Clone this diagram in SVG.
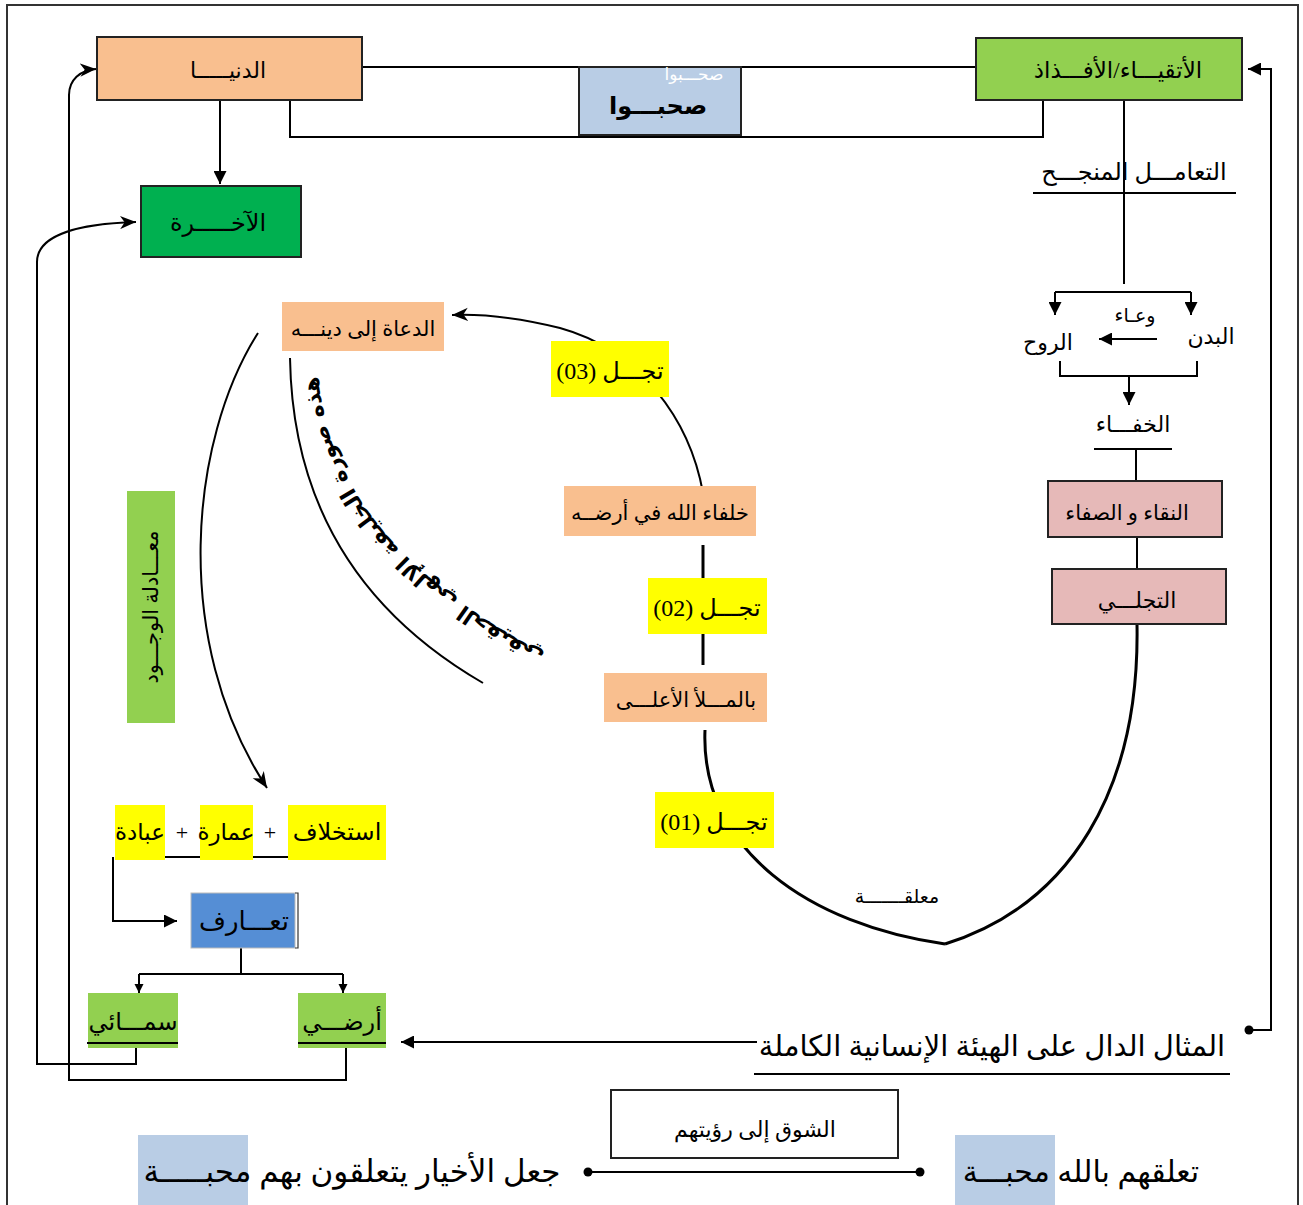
<svg xmlns="http://www.w3.org/2000/svg" width="1303" height="1205" viewBox="0 0 1303 1205">
  <style>
    .ar { font-family: 'Liberation Serif', 'DejaVu Sans', serif; fill: #000; direction: rtl; text-anchor: middle; }
    .box { stroke: #222; stroke-width: 2; }
    .ln { fill: none; stroke: #000; stroke-width: 2; }
    .thick { fill: none; stroke: #000; stroke-width: 3; }
    .peach { fill: #F9BF8F; }
    .lgreen { fill: #92D050; }
    .dgreen { fill: #00B050; }
    .steel { fill: #B9CDE5; }
    .rose { fill: #E6B9B8; }
    .yel { fill: #FFFF00; }
    .blue { fill: #558ED5; }
  </style>
  <defs>
    <marker id="tri" viewBox="0 0 10 10" refX="10" refY="5" markerUnits="userSpaceOnUse" markerWidth="14" markerHeight="13" orient="auto">
      <path d="M0,0 L10,5 L0,10 z" fill="#000"/>
    </marker>
    <marker id="tri-s" viewBox="0 0 10 10" refX="10" refY="5" markerUnits="userSpaceOnUse" markerWidth="9" markerHeight="12" orient="auto">
      <path d="M0,0 L10,5 L0,10 z" fill="#000"/>
    </marker>
    <marker id="stealth" viewBox="0 0 12 10" refX="12" refY="5" markerUnits="userSpaceOnUse" markerWidth="16" markerHeight="14" orient="auto">
      <path d="M0,0 L12,5 L0,10 L3.5,5 z" fill="#000"/>
    </marker>
  </defs>

  <rect width="1303" height="1205" fill="#fff"/>
  <!-- frame -->
  <rect x="7" y="5" width="1291" height="1215" fill="none" stroke="#333" stroke-width="2"/>

  <!-- connectors -->
  <g id="connectors">
    <path class="ln" d="M362,67 H976" stroke-width="1.5"/>
    <path class="ln" d="M290,100 V137 H1043 V100"/>
    <path class="ln" d="M220,100 V184" marker-end="url(#tri)"/>
    <path class="ln" d="M1124,100 V284"/>
    <path class="ln" d="M1033,193 H1236"/>
    <path class="ln" d="M1055,292 H1191"/>
    <path class="ln" d="M1055,292 V315" marker-end="url(#tri)"/>
    <path class="ln" d="M1191,292 V315" marker-end="url(#tri)"/>
    <path class="ln" d="M1157,339 H1099" marker-end="url(#tri)"/>
    <path class="ln" d="M1060,361 V376 H1197 V361"/>
    <path class="ln" d="M1129,376 V405" marker-end="url(#tri)"/>
    <path class="ln" d="M1094,449 H1172"/>
    <path class="ln" d="M1136,449 V481"/>
    <path class="ln" d="M1137,537 V569"/>
    <path class="thick" d="M1137,624 C1140,790 1070,905 945,944"/>
    <path class="thick" d="M945,944 C810,925 700,850 705,730"/>
    <path class="thick" d="M703,545 V665"/>
    <path class="ln" stroke-width="2.6" d="M703,493 C690,420 640,350 560,328 C520,318 480,314 452,315" marker-end="url(#stealth)"/>
    <path class="ln" stroke-width="2.6" d="M258,333 C190,440 170,640 267,788" marker-end="url(#stealth)"/>
    <path class="ln" stroke-width="1.3" d="M290,358 C292,480 340,600 483,683"/>
    <path class="ln" d="M115,857 H386"/>
    <path class="ln" d="M113,857 V921 H177" marker-end="url(#tri)"/>
    <path class="ln" d="M241,948 V974 M139,974 H343"/>
    <path class="ln" d="M139,974 V993" marker-end="url(#tri-s)"/>
    <path class="ln" d="M343,974 V993" marker-end="url(#tri-s)"/>
    <path class="ln" d="M136,1048 V1064 H37 V262 C37,238 70,224 136,222" marker-end="url(#stealth)"/>
    <path class="ln" d="M346,1048 V1080 H69 V95 C69,80 80,70 96,69" marker-end="url(#stealth)"/>
    <path class="ln" d="M1249,1030 H1271 V69 H1248" marker-end="url(#tri)"/>
    <circle cx="1249" cy="1030" r="4.5" fill="#000"/>
    <path class="ln" d="M754,1074 H1230"/>
    <path class="ln" d="M757,1042 H401" marker-end="url(#tri)"/>
    <path class="ln" d="M588,1172 H920"/>
    <circle cx="588" cy="1172" r="4.5" fill="#000"/>
    <circle cx="920" cy="1172" r="4.5" fill="#000"/>
  </g>

  <!-- top row -->
  <g id="dunya">
    <rect class="box peach" x="97" y="37" width="265" height="63"/>
    <text class="ar" x="228" y="78" font-size="22">الدنيـــــا</text>
  </g>
  <g id="akhira">
    <rect class="box dgreen" x="141" y="186" width="160" height="71"/>
    <text class="ar" x="218" y="231" font-size="24">الآخـــــرة</text>
  </g>
  <g id="sahibou">
    <rect class="box steel" x="579" y="67" width="162" height="68"/>
    <text class="ar" x="694" y="80" font-size="17" style="fill:#fff">صحـــبوا</text>
    <text class="ar" x="658" y="114" font-size="24" font-weight="bold">صحبـــوا</text>
  </g>
  <g id="atqiya">
    <rect class="box lgreen" x="976" y="38" width="266" height="62"/>
    <text class="ar" x="1118" y="78" font-size="23">الأتقيـــاء/الأفـــذاذ</text>
  </g>

  <!-- right column -->
  <g id="taamul">
    <text class="ar" x="1134" y="180" font-size="24">التعامـــل المنجـــح</text>
  </g>
  <g id="wiaa">
    <text class="ar" x="1135" y="322" font-size="19">وعـاء</text>
    <text class="ar" x="1211" y="344" font-size="22">البدن</text>
    <text class="ar" x="1048" y="350" font-size="22">الروح</text>
  </g>
  <g id="khafaa">
    <text class="ar" x="1133" y="432" font-size="22">الخفـــاء</text>
  </g>
  <g id="naqaa">
    <rect class="box rose" x="1048" y="481" width="174" height="56"/>
    <text class="ar" x="1127" y="520" font-size="21">النقاء و الصفاء</text>
  </g>
  <g id="tajalli">
    <rect class="box rose" x="1052" y="569" width="174" height="55"/>
    <text class="ar" x="1137" y="608" font-size="22">التجلـــي</text>
  </g>

  <!-- central chain -->
  <g id="duat">
    <rect class="peach" x="282" y="302" width="162" height="49"/>
    <text class="ar" x="363" y="336" font-size="21">الدعاة إلى دينـــه</text>
  </g>
  <g id="tajal3">
    <rect class="yel" x="551" y="341" width="118" height="56"/>
    <text class="ar" x="610" y="379" font-size="24">تجـــل (03)</text>
  </g>
  <g id="khulafa">
    <rect class="peach" x="564" y="486" width="192" height="50"/>
    <text class="ar" x="660" y="520" font-size="21">خلفاء الله في أرضــه</text>
  </g>
  <g id="tajal2">
    <rect class="yel" x="648" y="578" width="119" height="56"/>
    <text class="ar" x="707" y="616" font-size="24">تجـــل (02)</text>
  </g>
  <g id="mala">
    <rect class="peach" x="604" y="673" width="163" height="49"/>
    <text class="ar" x="686" y="707" font-size="21">بالمـــلأ الأعلـــى</text>
  </g>
  <g id="tajal1">
    <rect class="yel" x="655" y="792" width="119" height="56"/>
    <text class="ar" x="714" y="830" font-size="24">تجـــل (01)</text>
  </g>
  <g id="muallaqa">
    <text class="ar" x="897" y="903" font-size="19">معلقـــــــة</text>
  </g>

  <!-- curved caption along the arc -->
  <g id="caption">
    <path id="capPath" d="M550,656 C440,600 325,510 318,370" fill="none"/>
    <text font-family="'DejaVu Sans', sans-serif" font-size="22" font-weight="bold" fill="#000">
      <textPath href="#capPath" startOffset="50%" text-anchor="middle">هذه صورة الخليفة الإلهي الحقيقي</textPath>
    </text>
  </g>

  <!-- left column -->
  <g id="muadala">
    <rect class="lgreen" x="127" y="491" width="48" height="232"/>
    <text class="ar" x="0" y="0" font-size="21" transform="translate(158,607) rotate(-90)">معـــادلة الوجـــود</text>
  </g>
  <g id="equation">
    <rect class="yel" x="288" y="805" width="98" height="55"/>
    <rect class="yel" x="200" y="805" width="53" height="55"/>
    <rect class="yel" x="115" y="805" width="50" height="55"/>
    <text class="ar" x="337" y="840" font-size="24">استخلاف</text>
    <text class="ar" x="270" y="840" font-size="22">+</text>
    <text class="ar" x="226" y="840" font-size="23">عمارة</text>
    <text class="ar" x="182" y="840" font-size="22">+</text>
    <text class="ar" x="140" y="840" font-size="23">عبادة</text>
  </g>
  <g id="taaruf">
    <rect class="blue" x="191" y="893" width="104" height="55" stroke="#bbb" stroke-width="1"/>
    <path d="M295,893 H298 V948 H295" fill="none" stroke="#333" stroke-width="1.2"/>
    <text class="ar" x="244" y="930" font-size="26">تعـــارف</text>
  </g>
  <g id="samai">
    <rect class="lgreen" x="88" y="993" width="90" height="55"/>
    <path d="M87,1043 H178" stroke="#000" stroke-width="2"/>
    <text class="ar" x="133" y="1030" font-size="24">سمـــائي</text>
  </g>
  <g id="ardi">
    <rect class="lgreen" x="298" y="993" width="88" height="55"/>
    <path d="M298,1043 H386" stroke="#000" stroke-width="2"/>
    <text class="ar" x="342" y="1030" font-size="24">أرضـــي</text>
  </g>

  <!-- bottom -->
  <g id="mithal">
    <text class="ar" x="992" y="1056" font-size="29">المثال الدال على الهيئة الإنسانية الكاملة</text>
  </g>
  <g id="shawq">
    <rect x="611" y="1090" width="287" height="68" fill="#fff" stroke="#222" stroke-width="2"/>
    <text class="ar" x="755" y="1137" font-size="22">الشوق إلى رؤيتهم</text>
  </g>
  <g id="taallauqhum">
    <rect class="steel" x="955" y="1135" width="100" height="70"/>
    <text class="ar" x="1081" y="1182" font-size="30">تعلقهم بالله محبـــة</text>
  </g>
  <g id="jaal">
    <rect class="steel" x="138" y="1135" width="110" height="70"/>
    <text class="ar" x="352" y="1182" font-size="31">جعل الأخيار يتعلقون بهم محبـــــة</text>
  </g>
</svg>
